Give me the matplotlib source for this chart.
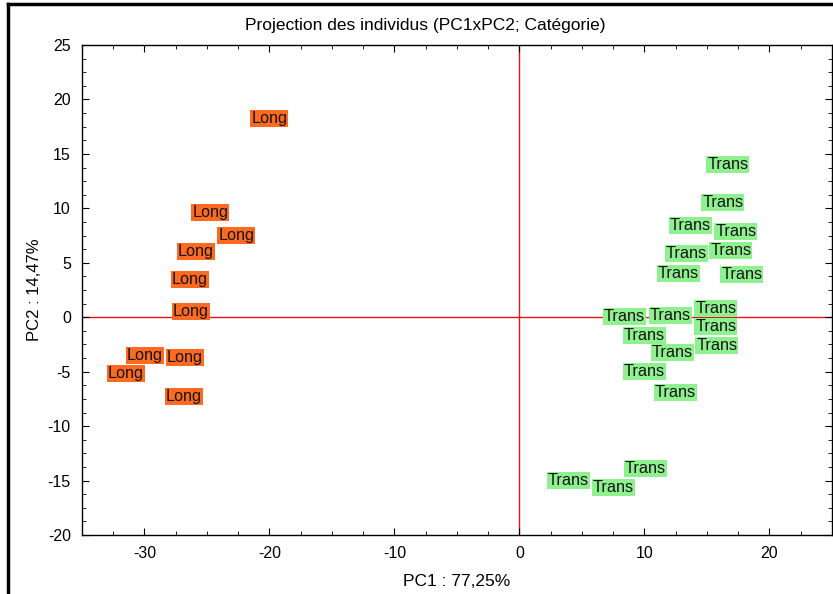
import matplotlib.pyplot as plt
from matplotlib.lines import Line2D
from matplotlib.ticker import MultipleLocator

plt.rcParams['font.family'] = ['Liberation Sans', 'DejaVu Sans']
plt.rcParams['axes.unicode_minus'] = False

# PCA scores of the individuals (PC1, PC2) by category
long_pc1 = [-21.45, -26.18, -24.10, -27.31, -27.79, -27.71, -31.41, -28.19, -32.93, -28.27]
long_pc2 = [18.24, 9.60, 7.54, 6.07, 3.49, 0.51, -3.49, -3.72, -5.19, -7.26]

trans_pc1 = [15.02, 14.62, 12.05, 15.66, 11.73, 15.26, 11.08, 16.14, 6.75, 10.44,
             14.06, 14.06, 8.35, 10.60, 14.14, 8.35, 10.84, 2.25, 5.86, 8.43]
trans_pc2 = [14.06, 10.52, 8.41, 7.90, 5.88, 6.16, 4.04, 3.95, 0.09, 0.14,
             0.83, -0.83, -1.65, -3.26, -2.62, -4.96, -6.94, -14.98, -15.67, -13.88]

fig = plt.figure(figsize=(8.33, 5.94), dpi=100)
ax = fig.add_axes([0.0984, 0.0993, 0.9004, 0.8249])

ax.axvline(0, color='#e8141b', lw=1.0, zorder=1)
ax.axhline(0, color='#e8141b', lw=1.0, zorder=1)

def draw_labels(xs, ys, name, color):
    for x, y in zip(xs, ys):
        ax.text(x, y, name, ha='left', va='center', fontsize=11.7, color='#141414',
                bbox=dict(boxstyle='square,pad=0.06', fc=color, ec='none'), zorder=3)

draw_labels(long_pc1, long_pc2, 'Long', '#ff6a21')
draw_labels(trans_pc1, trans_pc2, 'Trans', '#8ff08f')

ax.set_xlim(-35, 25)
ax.set_ylim(-20, 25)
ax.xaxis.set_major_locator(MultipleLocator(10))
ax.xaxis.set_minor_locator(MultipleLocator(2.5))
ax.yaxis.set_major_locator(MultipleLocator(5))
ax.yaxis.set_minor_locator(MultipleLocator(1.25))
ax.tick_params(which='both', direction='in', top=True, right=True, labelsize=11.5)
ax.tick_params(which='major', length=5, pad=8)
ax.tick_params(which='minor', length=3)
for s in ax.spines.values():
    s.set_linewidth(1.0)

ax.set_xlabel('PC1 : 77,25%', fontsize=12.5, labelpad=9)
ax.set_ylabel('PC2 : 14,47%', fontsize=12, labelpad=4)
fig.text(0.511, 0.957, 'Projection des individus (PC1xPC2; Catégorie)',
         ha='center', va='center', fontsize=12.5)

# outer frame
fig.add_artist(Line2D([8 / 833, 8 / 833], [0, 1 - 4 / 594], color='black', lw=2.5))
fig.add_artist(Line2D([8 / 833, 1], [1 - 4 / 594, 1 - 4 / 594], color='black', lw=2.5))

fig.savefig('out.png', dpi=100)
